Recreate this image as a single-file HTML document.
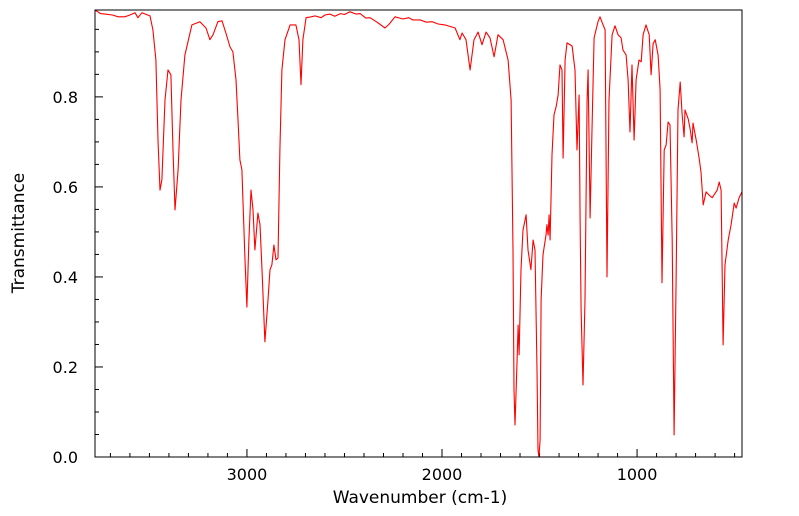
<!DOCTYPE html>
<html><head><meta charset="utf-8"><style>
html,body{margin:0;padding:0;background:#fff;}
svg{display:block;font-family:"DejaVu Sans","Liberation Sans",sans-serif;}
</style></head><body>
<svg id="chart" width="799" height="516" xmlns="http://www.w3.org/2000/svg">
<g id="ticks"></g>
<path id="spectrum" fill="none" stroke="#ff0000" stroke-width="1.1" stroke-linejoin="round"/>
<rect x="95" y="10" width="647" height="447" fill="none" stroke="#000" stroke-width="1"/>
<text x="420" y="503" font-size="17" text-anchor="middle">Wavenumber (cm-1)</text>
<text x="24" y="233" font-size="17" text-anchor="middle" transform="rotate(-90 24 233)">Transmittance</text>
</svg>
<script>
const wavenumbers=[3779,3750,3728,3690,3660,3626,3600,3574,3559,3538,3497,3482,3467,3456,3446,3436,3420,3405,3390,3379,3369,3353,3338,3318,3282,3241,3210,3190,3174,3149,3128,3108,3087,3072,3056,3046,3036,3026,3010,3000,2990,2979,2969,2959,2944,2933,2923,2908,2892,2882,2872,2862,2851,2841,2831,2821,2805,2779,2749,2733,2723,2713,2697,2670,2651,2620,2600,2574,2550,2520,2500,2472,2440,2420,2390,2369,2340,2320,2292,2270,2241,2200,2170,2150,2113,2080,2050,2020,1985,1933,1908,1897,1877,1856,1836,1815,1795,1774,1754,1733,1713,1687,1661,1646,1636,1631,1626,1615,1610,1605,1595,1585,1569,1559,1544,1533,1523,1513,1508,1503,1497,1492,1482,1477,1467,1462,1456,1451,1446,1436,1426,1415,1405,1395,1385,1379,1369,1359,1333,1318,1308,1297,1292,1287,1277,1267,1256,1251,1241,1231,1220,1200,1190,1174,1164,1154,1144,1128,1113,1097,1082,1072,1056,1046,1036,1026,1015,1005,990,979,969,954,938,928,918,907,892,882,872,861,851,841,831,820,810,800,790,779,769,759,754,738,728,718,713,697,682,672,661,646,631,615,589,579,569,559,549,533,518,502,492,477,462];
const transmittance=[0.993,0.985,0.984,0.982,0.978,0.978,0.982,0.987,0.976,0.987,0.98,0.949,0.882,0.704,0.593,0.616,0.793,0.86,0.849,0.682,0.549,0.638,0.793,0.893,0.96,0.967,0.953,0.927,0.938,0.967,0.969,0.942,0.911,0.9,0.838,0.749,0.66,0.638,0.438,0.333,0.482,0.593,0.549,0.46,0.542,0.516,0.416,0.256,0.349,0.416,0.427,0.471,0.438,0.442,0.682,0.86,0.927,0.96,0.96,0.927,0.827,0.927,0.976,0.978,0.98,0.976,0.982,0.984,0.979,0.985,0.983,0.989,0.984,0.985,0.975,0.976,0.968,0.962,0.953,0.962,0.978,0.973,0.976,0.971,0.971,0.966,0.967,0.962,0.96,0.953,0.927,0.942,0.927,0.86,0.927,0.944,0.916,0.944,0.931,0.889,0.938,0.927,0.882,0.793,0.46,0.149,0.071,0.216,0.293,0.227,0.416,0.504,0.538,0.46,0.416,0.482,0.46,0.193,0.016,0.0,0.038,0.349,0.449,0.464,0.493,0.516,0.493,0.538,0.482,0.671,0.76,0.778,0.804,0.871,0.86,0.664,0.882,0.92,0.913,0.86,0.682,0.804,0.527,0.327,0.16,0.349,0.793,0.86,0.531,0.727,0.931,0.967,0.978,0.96,0.949,0.4,0.793,0.938,0.958,0.938,0.931,0.904,0.893,0.838,0.722,0.871,0.704,0.838,0.882,0.878,0.938,0.96,0.938,0.849,0.918,0.927,0.893,0.816,0.387,0.682,0.693,0.744,0.738,0.482,0.049,0.393,0.771,0.833,0.762,0.711,0.771,0.751,0.729,0.698,0.742,0.704,0.664,0.633,0.56,0.589,0.582,0.576,0.593,0.611,0.593,0.249,0.427,0.482,0.516,0.564,0.553,0.576,0.589];
const xTickLabels=[3000,2000,1000];
const yTickLabels=[0.0,0.2,0.4,0.6,0.8];
const L=95,R=742,T=10,B=457,X0=3779,X1=462;
function sx(w){return L+(X0-w)/(X0-X1)*(R-L);}
function sy(t){return B-t/0.993*(B-T);}
const NS='http://www.w3.org/2000/svg';
let d='';
for(let i=0;i<wavenumbers.length;i++){d+=(i?'L':'M')+sx(wavenumbers[i]).toFixed(1)+','+sy(transmittance[i]).toFixed(1);}
document.getElementById('spectrum').setAttribute('d',d);
const g=document.getElementById('ticks');
function line(x1,y1,x2,y2,name){const l=document.createElementNS(NS,'line');l.setAttribute('x1',x1);l.setAttribute('y1',y1);l.setAttribute('x2',x2);l.setAttribute('y2',y2);l.setAttribute('stroke','#000');l.setAttribute('stroke-width','1');


g.appendChild(l);}
function text(x,y,s,anchor,name){const t=document.createElementNS(NS,'text');t.setAttribute('x',x);t.setAttribute('y',y);t.setAttribute('font-size','16');t.setAttribute('text-anchor',anchor);t.textContent=s;


g.appendChild(t);}
for(let w=3700;w>=500;w-=100){const x=sx(w);const major=w%1000===0;line(x,B,x,B-(major?8:4),major?'x-major-tick':'x-minor-tick');}
xTickLabels.forEach(w=>text(sx(w),B+23,String(w),'middle','x-tick-label'));
for(let k=0;k<=19;k++){const t=k*0.05;const y=sy(t);const major=k%4===0;line(L,y,L+(major?8:4),y,major?'y-major-tick':'y-minor-tick');}
yTickLabels.forEach(t=>text(L-17,sy(t)+6,t.toFixed(1),'end','y-tick-label'));
</script>
</body></html>
